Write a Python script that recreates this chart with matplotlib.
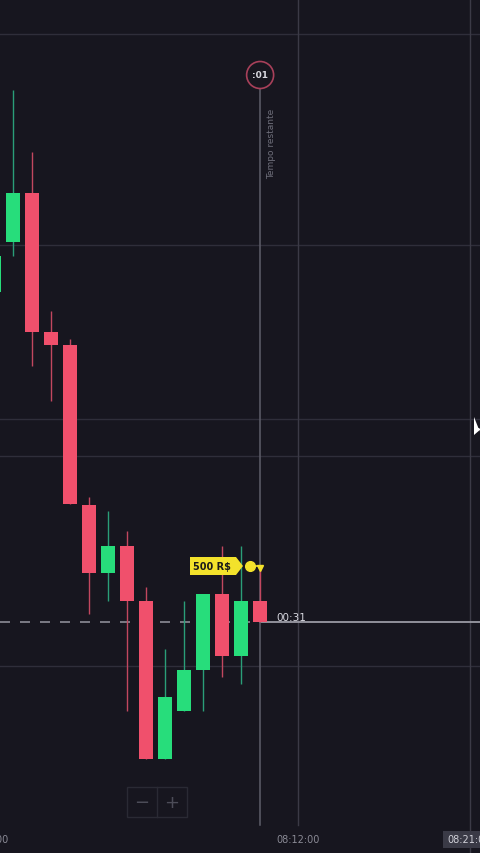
import matplotlib
matplotlib.use("Agg")
import matplotlib.pyplot as plt
from matplotlib.patches import Rectangle, Circle, Polygon

# candle data, oldest first (price in chart points)
opens  = [561, 611, 660, 521, 508, 348, 280, 307, 252,  94, 142, 183, 259, 197, 252]
closes = [597, 660, 521, 508, 349, 280, 307, 252,  94, 156, 183, 259, 197, 252, 231]
highs  = [604, 763, 701, 542, 514, 356, 342, 322, 266, 204, 252, 259, 307, 307, 287]
lows   = [554, 597, 487, 452, 349, 239, 252, 142,  94,  94, 142, 142, 176, 169, 231]

grid_prices = [819, 608, 434, 397, 187]
grid_times  = [298, 470]
entry_price = 287
trade_label = "500 R$"
timer_text  = ":01"
countdown   = "00:31"
time_labels = ["08:04:00", "08:12:00", "08:21:00"]

BG      = "#17161f"
GREEN   = "#27dd7b"
RED     = "#f0506c"
GREEN_W = "#2a9e78"
RED_W   = "#c2475f"
GRID    = "#2f2e3a"
YELLOW  = "#f3e22b"

X0, STEP, BODY_W = -6.3, 19.03, 13.8

fig = plt.figure(figsize=(4.8, 8.54), dpi=100, facecolor=BG)
ax = fig.add_axes([0, 0, 1, 1])
ax.set_facecolor(BG)
ax.set_xlim(0, 480)
ax.set_ylim(0, 854)
ax.axis("off")

# grid
for p in grid_prices:
    ax.axhline(p, color=GRID, lw=1.0, zorder=1)
ax.axvline(grid_times[0], ymin=28 / 854, ymax=1, color="#3b3a46", lw=1.0, zorder=1)
ax.axvline(grid_times[1], color="#3b3a46", lw=1.0, zorder=1)

# candles
for i, (o, c, h, l) in enumerate(zip(opens, closes, highs, lows)):
    x = X0 + STEP * i
    up = c >= o
    ax.vlines(x, l, h, color=GREEN_W if up else RED_W, lw=1.0, zorder=3)
    ax.add_patch(Rectangle((x - BODY_W / 2, min(o, c)), BODY_W, abs(c - o),
                           facecolor=GREEN if up else RED, edgecolor="none", zorder=4))

# current price line
last_x = X0 + STEP * (len(closes) - 1)
cur = closes[-1]
ax.plot([0, last_x], [cur, cur], color="#8c8c96", lw=1.2, ls=(0, (6, 6)), zorder=2)
ax.plot([last_x, 480], [cur, cur], color="#9a9aa4", lw=1.3, zorder=2)
ax.text(last_x + 16, cur + 5, countdown, color="#d8d8e0", fontsize=7.5,
        ha="left", va="center", zorder=6)

# expiry timer line
ax.plot([last_x, last_x], [28, 764], color="#5e5e6a", lw=1.1, zorder=2)
ax.add_patch(Circle((last_x, 778), 13.5, facecolor=BG, edgecolor="#a8405a", lw=1.2, zorder=5))
ax.text(last_x, 778, timer_text, color="#d8d8e0", fontsize=6.5, ha="center",
        va="center", fontweight="bold", zorder=6)
ax.text(last_x + 11, 710, "Tempo restante", color="#6e6e7a", fontsize=6.5,
        rotation=90, ha="center", va="center", zorder=6)

# trade tag
tx = 190
tag = Polygon([(tx, entry_price + 9), (tx + 46, entry_price + 9), (tx + 53, entry_price),
               (tx + 46, entry_price - 9), (tx, entry_price - 9)],
              closed=True, facecolor=YELLOW, edgecolor="none", zorder=7)
ax.add_patch(tag)
ax.text(tx + 22, entry_price - 0.5, trade_label, color="#1a1a1a", fontsize=7,
        ha="center", va="center", fontweight="bold", zorder=8)
ax.plot([tx + 60, last_x], [entry_price, entry_price], color=YELLOW, lw=1.2, zorder=7)
ax.plot(tx + 60, entry_price, "o", color=YELLOW, ms=7, zorder=8)
ax.plot(last_x, entry_price - 2, "v", color=YELLOW, ms=4, zorder=8)

# zoom buttons
ax.add_patch(Rectangle((127, 36), 60, 30, facecolor="none", edgecolor="#2a2a34", lw=1.0, zorder=5))
ax.plot([157, 157], [36, 66], color="#2a2a34", lw=1.0, zorder=5)
ax.text(142, 51, "\u2212", color="#4c4c58", fontsize=13, ha="center", va="center", zorder=6)
ax.text(172, 51, "+", color="#4c4c58", fontsize=13, ha="center", va="center", zorder=6)

# time axis labels (the outer two run off the edges of the view)
ax.text(-13, 14, time_labels[0], color="#8a8a95", fontsize=7, ha="center", va="center")
ax.text(grid_times[0], 14, time_labels[1], color="#8a8a95", fontsize=7, ha="center", va="center")
ax.add_patch(Rectangle((443, 5), 60, 17, facecolor="#3a3a46", edgecolor="none", zorder=5))
ax.text(447, 13.5, time_labels[2], color="#d0d0d8", fontsize=7, ha="left", va="center", zorder=6)

# mouse pointer
ax.add_patch(Polygon([(474, 436), (474, 418), (481, 424), (478, 425), (480, 421)],
                     closed=True, facecolor="white", edgecolor="none", zorder=9))

fig.savefig("out.png", dpi=100, facecolor=BG)
